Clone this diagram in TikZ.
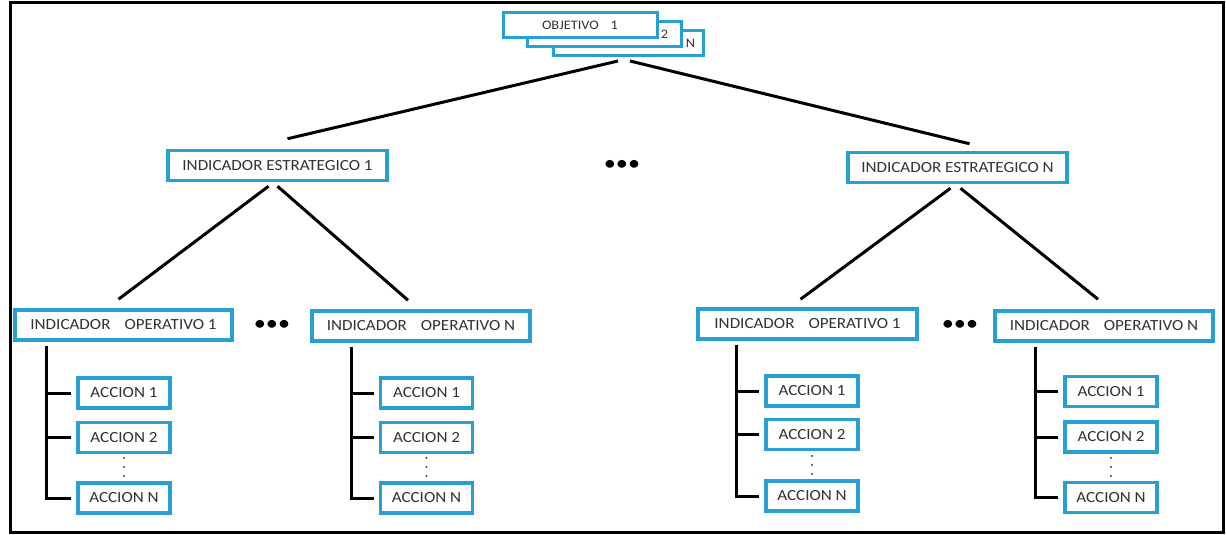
\documentclass[tikz,border=0pt]{standalone}
\usepackage{fontspec}
\setmainfont{Carlito}[FakeStretch=1.1]
\usetikzlibrary{calc,positioning}
\definecolor{boxblue}{RGB}{38,160,210}
\definecolor{txtgray}{RGB}{50,50,50}

\begin{document}
\begin{tikzpicture}[x=1pt,y=-1pt,
  box/.style={draw=boxblue,line width=3.5pt,fill=white,text=txtgray,font=\fontsize{15.5}{18}\selectfont,inner sep=0pt,minimum height=30pt},
  objbox/.style={box,font=\fontsize{13}{14}\selectfont,minimum height=25pt,line width=3pt},
  accbox/.style={box,minimum width=92pt},
  link/.style={line width=3pt,black},
  dots/.style={font=\fontsize{22}{22}\selectfont,inner sep=0pt},
  vdot/.style={font=\fontsize{15}{15}\selectfont,rotate=90,inner sep=0pt,text height=1.6pt,text depth=0pt,text=txtgray}]

\useasboundingbox (0,0) rectangle (1226,535);
\draw[line width=3pt] (10,3) rectangle (1223,532);

% objetivos
\node[objbox,minimum width=150pt,text width=134pt,align=right] (objN) at (628,43) {N};
\node[objbox,minimum width=154pt,text width=128pt,align=right] (obj2) at (604,34.5) {2};
\node[objbox,minimum width=154pt] (obj1) at (580,25.5) {OBJETIVO\hspace{12pt}1};
\coordinate (objtip) at (624,61);

% indicadores estrategicos
\node[box,minimum width=219pt] (ei1) at (277.5,165.5) {INDICADOR ESTRATEGICO 1};
\node[box,minimum width=219pt] (eiN) at (957.5,167.5) {INDICADOR ESTRATEGICO N};
\node[dots] (dmid) at (622,165) {\textbullet\textbullet\textbullet};

% indicadores operativos
\node[box,minimum width=217pt] (op1a) at (123.5,325) {INDICADOR\hspace{14pt}OPERATIVO 1};
\node[box,minimum width=218pt] (opNa) at (421,326) {INDICADOR\hspace{14pt}OPERATIVO N};
\node[box,minimum width=219pt] (op1b) at (807.5,324) {INDICADOR\hspace{14pt}OPERATIVO 1};
\node[box,minimum width=218pt] (opNb) at (1104,326) {INDICADOR\hspace{14pt}OPERATIVO N};
\node[dots] (da) at (272,325) {\textbullet\textbullet\textbullet};
\node[dots] (db) at (960,325) {\textbullet\textbullet\textbullet};

\draw[link] ([xshift=-6pt]objtip) -- ([xshift=10pt,yshift=10pt]ei1.north);
\draw[link] ([xshift=6pt]objtip) -- ([xshift=12pt,yshift=7pt]eiN.north);
\draw[link] ([xshift=-9pt,yshift=-4pt]ei1.south) -- ([xshift=-5pt,yshift=9pt]op1a.north);
\draw[link] ([xshift=0pt,yshift=-4pt]ei1.south) -- ([xshift=-13pt,yshift=9pt]opNa.north);
\draw[link] ([xshift=-7pt,yshift=-4pt]eiN.south) -- ([xshift=-7pt,yshift=8pt]op1b.north);
\draw[link] ([xshift=3pt,yshift=-4pt]eiN.south) -- ([xshift=-6pt,yshift=10pt]opNb.north);

% acciones
\node[accbox] (a1a) at (124,393) {ACCION 1};
\node[accbox] (a2a) at (124,437.5) {ACCION 2};
\node[accbox] (aNa) at (124,498) {ACCION N};
\node[vdot] (va) at ($(a2a.south)!0.5!(aNa.north)$) {. . .};

\node[accbox] (a1b) at (426.5,393) {ACCION 1};
\node[accbox] (a2b) at (426.5,437.5) {ACCION 2};
\node[accbox] (aNb) at (426.5,498) {ACCION N};
\node[vdot] (vb) at ($(a2b.south)!0.5!(aNb.north)$) {. . .};

\node[accbox] (a1c) at (812,391) {ACCION 1};
\node[accbox] (a2c) at (812,434.5) {ACCION 2};
\node[accbox] (aNc) at (812,496) {ACCION N};
\node[vdot] (vc) at ($(a2c.south)!0.5!(aNc.north)$) {. . .};

\node[accbox] (a1d) at (1111,391.5) {ACCION 1};
\node[accbox] (a2d) at (1111,437) {ACCION 2};
\node[accbox] (aNd) at (1111,497.5) {ACCION N};
\node[vdot] (vd) at ($(a2d.south)!0.5!(aNd.north)$) {. . .};

\coordinate (ba) at ([xshift=33pt,yshift=-4pt]op1a.south west);
\coordinate (bb) at ([xshift=41pt,yshift=-4pt]opNa.south west);
\coordinate (bc) at ([xshift=40pt,yshift=-4pt]op1b.south west);
\coordinate (bd) at ([xshift=42pt,yshift=-4pt]opNb.south west);

\draw[link,shorten >=5pt] (ba) |- (aNa.west);
\draw[link,shorten >=5pt] (ba |- a1a.west) -- (a1a.west);
\draw[link,shorten >=5pt] (ba |- a2a.west) -- (a2a.west);
\draw[link,shorten >=5pt] (bb) |- (aNb.west);
\draw[link,shorten >=5pt] (bb |- a1b.west) -- (a1b.west);
\draw[link,shorten >=5pt] (bb |- a2b.west) -- (a2b.west);
\draw[link,shorten >=5pt] (bc) |- (aNc.west);
\draw[link,shorten >=5pt] (bc |- a1c.west) -- (a1c.west);
\draw[link,shorten >=5pt] (bc |- a2c.west) -- (a2c.west);
\draw[link,shorten >=5pt] (bd) |- (aNd.west);
\draw[link,shorten >=5pt] (bd |- a1d.west) -- (a1d.west);
\draw[link,shorten >=5pt] (bd |- a2d.west) -- (a2d.west);
\end{tikzpicture}
\end{document}
